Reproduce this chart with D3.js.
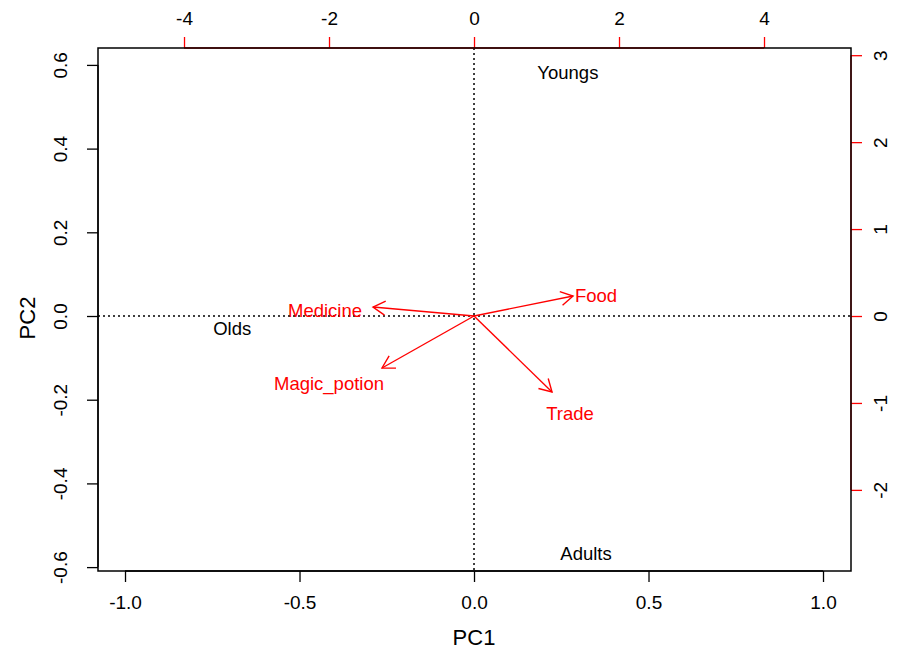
<!DOCTYPE html>
<html>
<head>
<meta charset="utf-8">
<script src="https://cdn.jsdelivr.net/npm/d3@7"></script>
<style>
  html, body { margin: 0; padding: 0; background: #fff; }
  svg text { font-family: "Liberation Sans", Arial, Helvetica, sans-serif; }
</style>
</head>
<body>
<svg id="chart" width="905" height="652"></svg>
<script>
// ---- data ----
const pc1Ticks = [-1.0, -0.5, 0.0, 0.5, 1.0];
const pc2Ticks = [-0.6, -0.4, -0.2, 0.0, 0.2, 0.4, 0.6];
const topTicks = [-4, -2, 0, 2, 4];
const rightTicks = [-2, -1, 0, 1, 2, 3];

const obsNames = ["Youngs", "Olds", "Adults"];
const obsPC1 = [0.269, -0.693, 0.321];
const obsPC2 = [0.583, -0.029, -0.566];

const varNames = ["Food", "Medicine", "Magic_potion", "Trade"];
const arrowPC1 = [1.366, -1.393, -1.269, 1.076];
const arrowPC2 = [0.230, 0.103, -0.598, -0.874];
const labelPC1 = [1.683, -2.055, -2.000, 1.324];
const labelPC2 = [0.241, 0.069, -0.770, -1.115];

// ---- layout ----
const L = 98, R = 851, T = 48, B = 571;
const svg = d3.select("#chart");
const RED = "#ff0000";

const x = d3.scaleLinear().domain([-1.0774, 1.0802]).range([L, R]);
const y = d3.scaleLinear().domain([-0.6093, 0.6404]).range([B, T]);
const k = 4.8138;
const x2 = d3.scaleLinear().domain([-1.0774 * k, 1.0802 * k]).range([L, R]);
const y2 = d3.scaleLinear().domain([-0.6093 * k, 0.6404 * k]).range([B, T]);

const tickLen = 11;
const fmt1 = d3.format(".1f");
const fmtTick = v => fmt1(v).replace("−", "-");

// reference lines (dotted)
svg.append("line").attr("x1", L).attr("x2", R).attr("y1", y(0)).attr("y2", y(0))
  .attr("stroke", "#000").attr("stroke-width", 1.5).attr("stroke-dasharray", "2,3");
svg.append("line").attr("x1", x(0)).attr("x2", x(0)).attr("y1", T).attr("y2", B)
  .attr("stroke", "#000").attr("stroke-width", 1.5).attr("stroke-dasharray", "2,3");

// bottom axis
const gB = svg.append("g").attr("transform", `translate(0,${B})`)
  .call(d3.axisBottom(x).tickValues(pc1Ticks).tickSize(tickLen).tickSizeOuter(0).tickFormat(fmtTick).tickPadding(14));
gB.select(".domain").remove();
gB.append("line").attr("x1", x(pc1Ticks[0])).attr("x2", x(pc1Ticks[pc1Ticks.length - 1]))
  .attr("stroke", "#000").attr("stroke-width", 1.3);
gB.selectAll(".tick line").attr("stroke", "#000").attr("stroke-width", 1.3);
gB.selectAll(".tick text").attr("font-size", 19).attr("fill", "#000");

// left axis
const gL = svg.append("g").attr("transform", `translate(${L},0)`)
  .call(d3.axisLeft(y).tickValues(pc2Ticks).tickSize(tickLen).tickSizeOuter(0).tickFormat(() => ""));
gL.select(".domain").remove();
gL.append("line").attr("y1", y(pc2Ticks[0])).attr("y2", y(pc2Ticks[pc2Ticks.length - 1]))
  .attr("stroke", "#000").attr("stroke-width", 1.3);
gL.selectAll(".tick line").attr("stroke", "#000").attr("stroke-width", 1.3);
gL.selectAll(".tick").append("text")
  .attr("transform", "translate(-38,0) rotate(-90)")
  .attr("text-anchor", "middle").attr("dy", "0.36em")
  .attr("font-size", 19).attr("fill", "#000")
  .text(d => fmtTick(d));

// top axis (red)
const gT = svg.append("g").attr("transform", `translate(0,${T})`)
  .call(d3.axisTop(x2).tickValues(topTicks).tickSize(tickLen).tickSizeOuter(0).tickFormat(d3.format("d")).tickPadding(12));
gT.select(".domain").remove();
gT.append("line").attr("x1", x2(topTicks[0])).attr("x2", x2(topTicks[topTicks.length - 1]))
  .attr("stroke", RED).attr("stroke-width", 1.3);
gT.selectAll(".tick line").attr("stroke", RED).attr("stroke-width", 1.3);
gT.selectAll(".tick text").attr("font-size", 19).attr("fill", "#000")
  .text(d => String(d).replace("−", "-"));

// right axis (red)
const gR = svg.append("g").attr("transform", `translate(${R},0)`)
  .call(d3.axisRight(y2).tickValues(rightTicks).tickSize(tickLen).tickSizeOuter(0).tickFormat(() => ""));
gR.select(".domain").remove();
gR.append("line").attr("y1", y2(rightTicks[0])).attr("y2", y2(rightTicks[rightTicks.length - 1]))
  .attr("stroke", RED).attr("stroke-width", 1.3);
gR.selectAll(".tick line").attr("stroke", RED).attr("stroke-width", 1.3);
gR.selectAll(".tick").append("text")
  .attr("transform", "translate(29,0) rotate(-90)")
  .attr("text-anchor", "middle").attr("dy", "0.36em")
  .attr("font-size", 19).attr("fill", "#000")
  .text(d => String(d));

// box
svg.append("rect").attr("x", L).attr("y", T).attr("width", R - L).attr("height", B - T)
  .attr("fill", "none").attr("stroke", "#000").attr("stroke-width", 1.5);

// axis titles
svg.append("text").attr("x", 474).attr("y", 645).attr("text-anchor", "middle")
  .attr("font-size", 22).text("PC1");
svg.append("text").attr("transform", `translate(35,318) rotate(-90)`)
  .attr("text-anchor", "middle").attr("font-size", 22).text("PC2");

// observation labels
svg.append("g").selectAll("text").data(obsNames).join("text")
  .attr("x", (d, i) => x(obsPC1[i])).attr("y", (d, i) => y(obsPC2[i]))
  .attr("text-anchor", "middle").attr("dy", "0.36em")
  .attr("font-size", 18.5).attr("fill", "#000").text(d => d);

// arrows
const headLen = 14, headAng = Math.PI / 6;
const gA = svg.append("g").attr("stroke", RED).attr("stroke-width", 1.4).attr("fill", "none");
varNames.forEach((name, i) => {
  const x0 = x2(0), y0 = y2(0);
  const x1 = x2(arrowPC1[i]), y1 = y2(arrowPC2[i]);
  gA.append("line").attr("x1", x0).attr("y1", y0).attr("x2", x1).attr("y2", y1);
  const ang = Math.atan2(y1 - y0, x1 - x0);
  const p = d3.path();
  p.moveTo(x1 - headLen * Math.cos(ang - headAng), y1 - headLen * Math.sin(ang - headAng));
  p.lineTo(x1, y1);
  p.lineTo(x1 - headLen * Math.cos(ang + headAng), y1 - headLen * Math.sin(ang + headAng));
  gA.append("path").attr("d", p.toString());
});

// variable labels
svg.append("g").selectAll("text").data(varNames).join("text")
  .attr("x", (d, i) => x2(labelPC1[i])).attr("y", (d, i) => y2(labelPC2[i]))
  .attr("text-anchor", "middle").attr("dy", "0.36em")
  .attr("font-size", 18.5).attr("fill", RED).text(d => d);
</script>
</body>
</html>
